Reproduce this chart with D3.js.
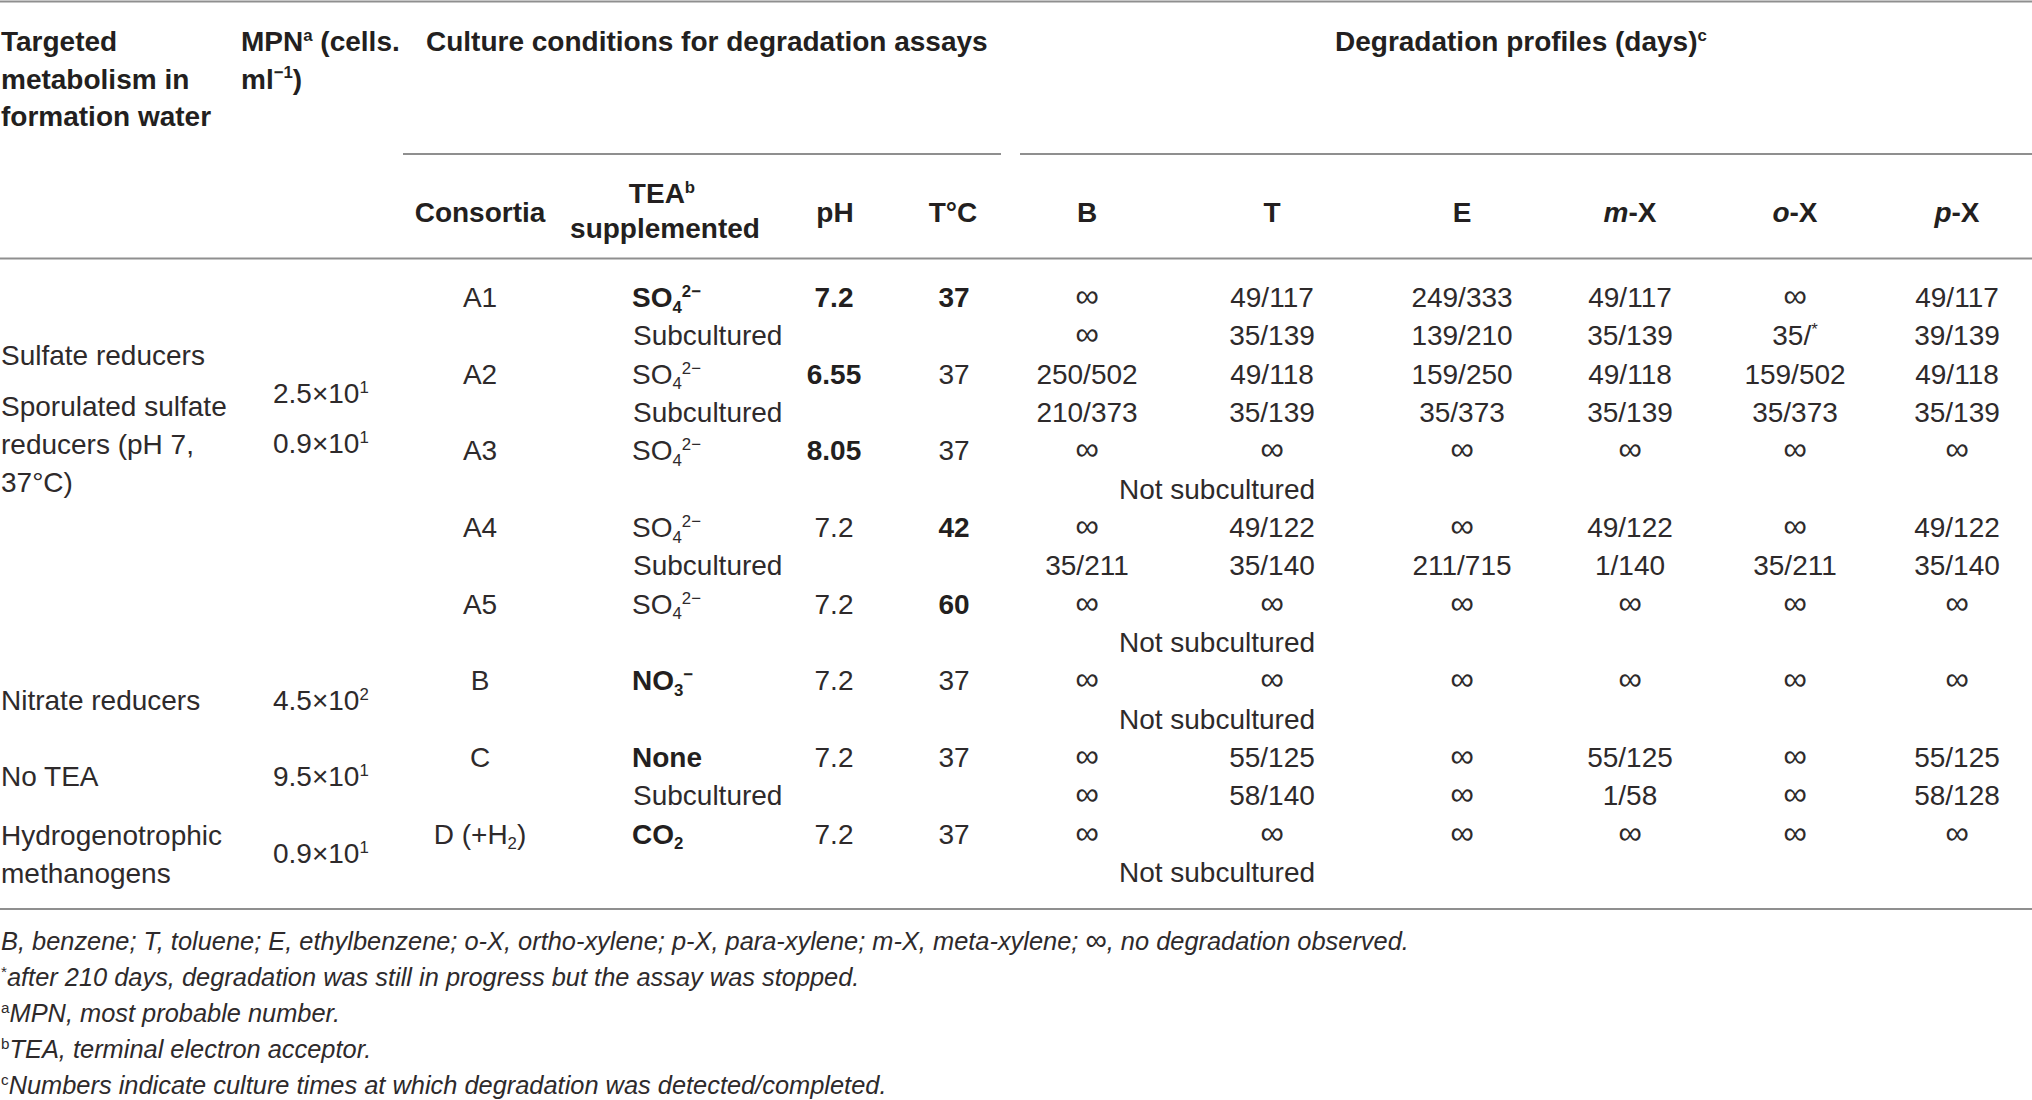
<!DOCTYPE html>
<html>
<head>
<meta charset="utf-8">
<script src="https://cdn.jsdelivr.net/npm/d3@7"></script>
<style>
  html, body { margin: 0; padding: 0; background: #fff; }
  svg { display: block; }
</style>
</head>
<body>
<div id="table"></div>
<script>
const metabolism = [
  ["Sulfate reducers"],
  ["Sporulated sulfate", "reducers (pH 7,", "37°C)"],
  ["Nitrate reducers"],
  ["No TEA"],
  ["Hydrogenotrophic", "methanogens"]
];
const mpn = ["2.5×10^{1}", "0.9×10^{1}", "4.5×10^{2}", "9.5×10^{1}", "0.9×10^{1}"];

const consortia = ["A1", "A2", "A3", "A4", "A5", "B", "C", "D (+H_{2})"];
const tea = ["SO_{4}^{2−}", "SO_{4}^{2−}", "SO_{4}^{2−}", "SO_{4}^{2−}", "SO_{4}^{2−}", "NO_{3}^{−}", "None", "CO_{2}"];
const pH = ["7.2", "6.55", "8.05", "7.2", "7.2", "7.2", "7.2", "7.2"];
const tempC = ["37", "37", "37", "42", "60", "37", "37", "37"];
// which culture condition was the one varied (printed bold)
const varied = [["tea", "ph", "temp"], ["ph"], ["ph"], ["temp"], ["temp"], ["tea"], ["tea"], ["tea"]];

const compounds = ["B", "T", "E", "*{m}-X", "*{o}-X", "*{p}-X"];
const initialProfile = [
  ["∞", "49/117", "249/333", "49/117", "∞", "49/117"],
  ["250/502", "49/118", "159/250", "49/118", "159/502", "49/118"],
  ["∞", "∞", "∞", "∞", "∞", "∞"],
  ["∞", "49/122", "∞", "49/122", "∞", "49/122"],
  ["∞", "∞", "∞", "∞", "∞", "∞"],
  ["∞", "∞", "∞", "∞", "∞", "∞"],
  ["∞", "55/125", "∞", "55/125", "∞", "55/125"],
  ["∞", "∞", "∞", "∞", "∞", "∞"]
];
const subProfile = [
  ["∞", "35/139", "139/210", "35/139", "35/^{*}", "39/139"],
  ["210/373", "35/139", "35/373", "35/139", "35/373", "35/139"],
  null,
  ["35/211", "35/140", "211/715", "1/140", "35/211", "35/140"],
  null,
  null,
  ["∞", "58/140", "∞", "1/58", "∞", "58/128"],
  null
];

const footnotes = [
  "*{B, benzene; T, toluene; E, ethylbenzene; o-X, ortho-xylene; p-X, para-xylene; m-X, meta-xylene; }∞*{, no degradation observed.}",
  "^{*}*{after 210 days, degradation was still in progress but the assay was stopped.}",
  "^{a}*{MPN, most probable number.}",
  "^{b}*{TEA, terminal electron acceptor.}",
  "^{c}*{Numbers indicate culture times at which degradation was detected/completed.}"
];

// ---- layout ----
const width = 2032, height = 1100;
const ink = "#231f20", inkLight = "#2e2a2b", rule = "#8f8f8f";
const fsBody = 28, fsHead = 28, fsNote = 25.4;

const svg = d3.select("#table").append("svg")
  .attr("width", width).attr("height", height)
  .style("font-family", "'Liberation Sans', Arial, sans-serif");

svg.append("rect").attr("width", width).attr("height", height).attr("fill", "#fff");

// sub-row index -> vertical centre
const y = d3.scaleLinear().domain([0, 15]).range([297, 872]);
const colX = d3.scaleOrdinal()
  .domain(["metab", "mpn", "cons", "tea", "ph", "temp", "note", ...compounds])
  .range([1, 273, 480, 632, 834, 954, 1217, 1087, 1272, 1462, 1630, 1795, 1957]);
// slots of the left-hand, loosely aligned text
const metabRow = [1.5, 2.84, 10.5, 12.5, 14.04];
const mpnRow = [2.5, 3.8, 10.5, 12.5, 14.5];

// tiny markup: ^{sup} _{sub} *{italic}; the infinity sign is set a bit larger
function rich(sel, str, fs) {
  const parts = str.split(/(\^\{[^}]*\}|_\{[^}]*\}|\*\{[^}]*\}|∞)/).filter(s => s.length);
  let cur = 0;
  parts.forEach(p => {
    let kind = null, t = p;
    if (/^[\^_*]\{/.test(p) && p.endsWith("}")) { kind = p[0]; t = p.slice(2, -1); }
    const off = kind === "^" ? -0.36 * fs : kind === "_" ? 0.2 * fs : 0;
    const ts = sel.append("tspan").text(t);
    if (off - cur !== 0) ts.attr("dy", off - cur);
    if (kind === "^" || kind === "_") ts.attr("font-size", fs * 0.6);
    if (kind === "*") ts.attr("font-style", "italic");
    if (p === "∞") ts.attr("font-size", fs * 1.18);
    cur = off;
  });
}

function label(x, yy, str, o = {}) {
  const fs = o.fs || fsBody;
  const t = svg.append("text")
    .attr("x", x).attr("y", yy)
    .attr("text-anchor", o.anchor || "start")
    .attr("font-size", fs)
    .attr("font-weight", o.bold ? "bold" : "normal")
    .attr("fill", o.bold ? ink : inkLight);
  rich(t, str, fs);
  return t;
}
const base = c => c + 0.36 * fsBody;

// ---- rules ----
const rules = [
  [0, width, 1.5], [403, 1001, 154], [1020, width, 154], [0, width, 258.5], [0, width, 909]
];
svg.selectAll("line.rule").data(rules).enter().append("line")
  .attr("class", "rule")
  .attr("x1", d => d[0]).attr("x2", d => d[1])
  .attr("y1", d => d[2]).attr("y2", d => d[2])
  .attr("stroke", rule).attr("stroke-width", 2);

// ---- header ----
const hb = [51, 88.5, 126];
["Targeted", "metabolism in", "formation water"].forEach((s, i) => label(colX("metab"), hb[i], s, { bold: true, fs: fsHead }));
["MPN^{a} (cells.", "ml^{−1})"].forEach((s, i) => label(241, hb[i], s, { bold: true, fs: fsHead }));
label(426, hb[0], "Culture conditions for degradation assays", { bold: true, fs: fsHead });
label(1335, hb[0], "Degradation profiles (days)^{c}", { bold: true, fs: fsHead });

label(colX("cons"), 222, "Consortia", { bold: true, anchor: "middle", fs: fsHead });
label(662, 203, "TEA^{b}", { bold: true, anchor: "middle", fs: fsHead });
label(665, 238, "supplemented", { bold: true, anchor: "middle", fs: fsHead });
label(colX("ph") + 1, 222, "pH", { bold: true, anchor: "middle", fs: fsHead });
label(colX("temp") - 1, 222, "T°C", { bold: true, anchor: "middle", fs: fsHead });
compounds.forEach(c => label(colX(c), 222, c, { bold: true, anchor: "middle", fs: fsHead }));

// ---- left columns ----
metabolism.forEach((lines, i) => {
  lines.forEach((s, j) => label(colX("metab"), base(y(metabRow[i] + j * 0.99)), s));
  label(colX("mpn"), base(y(mpnRow[i])), mpn[i]);
});

// ---- culture conditions + profiles ----
consortia.forEach((c, i) => {
  const r = 2 * i;
  const v = varied[i];
  label(colX("cons"), base(y(r)), c, { anchor: "middle" });
  label(colX("tea"), base(y(r)), tea[i], { bold: v.includes("tea") });
  label(colX("ph"), base(y(r)), pH[i], { anchor: "middle", bold: v.includes("ph") });
  label(colX("temp"), base(y(r)), tempC[i], { anchor: "middle", bold: v.includes("temp") });
  initialProfile[i].forEach((val, k) => label(colX(compounds[k]), base(y(r)), val, { anchor: "middle" }));
  if (subProfile[i]) {
    label(colX("tea") + 1, base(y(r + 1)), "Subcultured");
    subProfile[i].forEach((val, k) => label(colX(compounds[k]), base(y(r + 1)), val, { anchor: "middle" }));
  } else {
    label(colX("note"), base(y(r + 1)), "Not subcultured", { anchor: "middle" });
  }
});

// ---- footnotes ----
const noteY = d3.scaleLinear().domain([0, 4]).range([950, 1094]);
footnotes.forEach((s, i) => label(1, noteY(i), s, { fs: fsNote }));
</script>
</body>
</html>
